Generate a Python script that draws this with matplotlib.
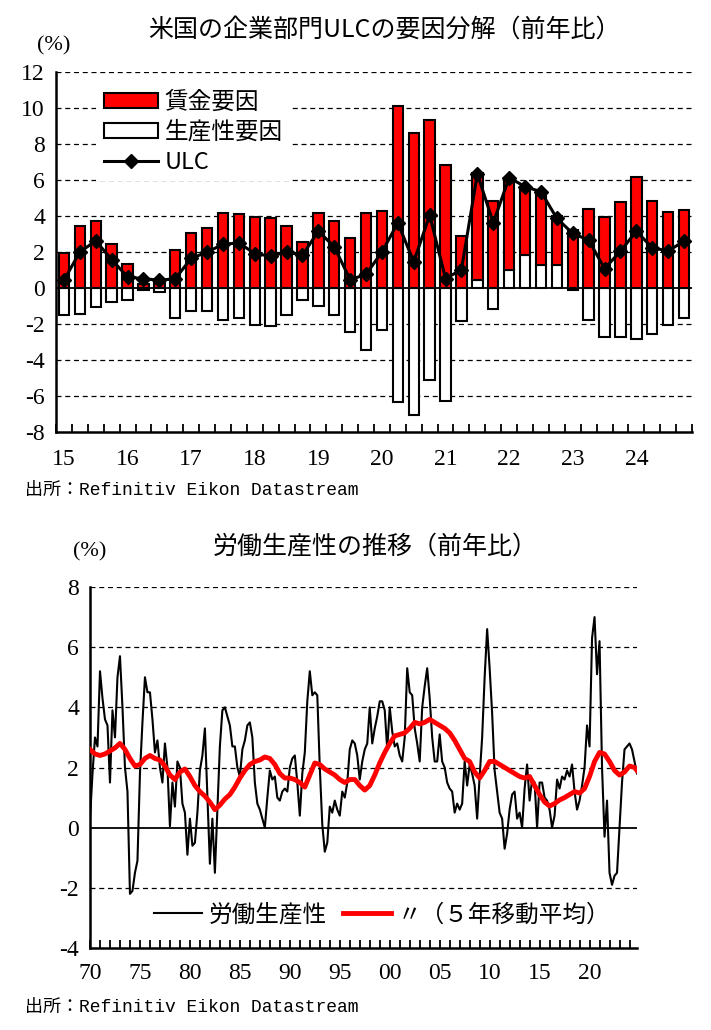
import numpy as np
import matplotlib
matplotlib.use("Agg")
import matplotlib.pyplot as plt
from matplotlib.patches import Patch
from matplotlib.lines import Line2D
from matplotlib.ticker import FixedLocator, FuncFormatter

JP = "Noto Sans CJK JP"
NUM = "Liberation Serif"
plt.rcParams["font.family"] = [NUM, JP]
plt.rcParams["axes.unicode_minus"] = False

# ---- top chart: ULC decomposition, quarterly 2015Q1-2024Q4 ----
year_labels = ["15", "16", "17", "18", "19", "20", "21", "22", "23", "24"]
wage = [1.95, 3.46, 3.70, 2.42, 1.32, 0.25, 0.30, 2.10, 3.03, 3.31,
        4.16, 4.11, 3.96, 3.90, 3.46, 2.53, 4.16, 3.70, 2.79, 4.14,
        4.28, 10.13, 8.61, 9.31, 6.84, 2.88, 5.91, 4.85, 5.11, 3.72,
        4.05, 2.71, 3.25, 4.41, 3.92, 4.80, 6.15, 4.85, 4.20, 4.33]
prod = [-1.52, -1.43, -1.06, -0.78, -0.65, -0.10, -0.22, -1.65, -1.30, -1.30,
        -1.77, -1.65, -2.03, -2.10, -1.52, -0.65, -0.99, -1.52, -2.42, -3.44,
        -2.32, -6.32, -7.04, -5.11, -6.26, -1.84, 0.46, -1.15, 0.99, 1.82,
        1.30, 1.30, -0.13, -1.75, -2.73, -2.73, -2.86, -2.55, -2.08, -1.67]
ulc = [0.43, 2.00, 2.62, 1.58, 0.61, 0.52, 0.43, 0.52, 1.64, 2.00,
       2.42, 2.51, 1.91, 1.77, 2.00, 1.82, 3.16, 2.29, 0.46, 0.76,
       2.00, 3.62, 1.45, 4.05, 0.52, 1.02, 6.34, 3.62, 6.13, 5.63,
       5.35, 3.87, 3.03, 2.66, 1.08, 2.04, 3.16, 2.23, 2.06, 2.60]

# ---- bottom chart: labour productivity yoy, quarterly from 1970Q1 ----
prod_yoy = [0.3, 1.8, 3.0, 2.7, 5.2, 4.3, 3.6, 3.4, 1.5, 3.9,
            3.0, 5.0, 5.7, 4.0, 2.0, 1.2, -2.2, -2.1, -1.5, -1.1,
            1.8, 3.5, 5.0, 4.5, 4.5, 3.6, 2.5, 2.9, 2.0, 1.5,
            2.8, 2.0, 0.05, 1.5, 0.7, 2.2, 2.0, 0.8, 0.5, -0.9,
            0.3, -0.6, -0.5, 0.5, 1.9, 2.4, 3.3, 1.0, -1.2, 0.3,
            -1.5, 0.6, 2.7, 3.9, 4.0, 3.7, 3.4, 2.7, 2.7, 2.0,
            1.7, 2.6, 2.9, 3.4, 3.5, 3.0, 1.5, 0.8, 0.6, 0.3,
            0.0, 1.0, 1.9, 1.6, 1.7, 1.0, 0.9, 1.2, 1.3, 1.2,
            2.0, 2.3, 2.4, 1.5, 0.4, 1.8, 2.5, 4.2, 5.2, 4.4,
            4.5, 4.4, 2.0, 0.1, -0.8, -0.5, 0.7, 0.5, 0.9, 0.6,
            0.4, 1.2, 1.0, 1.5, 2.6, 2.9, 2.8, 2.4, 1.6, 2.2,
            2.6, 2.8, 4.0, 2.8, 3.3, 3.7, 4.2, 4.2, 3.9, 2.6,
            4.0, 3.2, 2.7, 2.8, 2.4, 2.2, 3.0, 5.3, 4.5, 4.4,
            3.3, 2.8, 2.2, 4.0, 4.7, 5.3, 4.3, 3.0, 2.2, 2.2,
            3.1, 2.2, 2.0, 1.5, 1.3, 1.2, 0.5, 0.8, 0.6, 0.8,
            2.2, 1.4, 2.1, 1.8, 1.4, 0.3, 1.7, 3.0, 5.0, 6.6,
            5.3, 3.8, 1.9, 1.2, 0.5, 0.3, -0.7, -0.2, 0.6, 1.1,
            1.2, 0.3, 0.5, 0.0, 1.3, 2.1, 0.9, 1.6, 1.5, 0.0,
            1.5, 1.5, 1.0, 0.9, 0.6, 0.0, 0.4, 1.6, 1.3, 1.7,
            1.6, 1.9, 1.7, 2.1, 1.2, 0.6, 0.9, 1.4, 2.0, 3.4,
            2.7, 6.3, 7.0, 5.1, 6.2, 2.0, -0.3, 0.9, -1.5, -1.9,
            -1.6, -1.5, 0.0, 1.5, 2.6, 2.7, 2.8, 2.6, 2.2, 1.8]

# 5-year moving average
ma_year = [1970.0, 1970.5, 1971.0, 1971.5, 1972.0, 1972.5, 1973.0, 1973.5, 1974.0, 1974.5,
           1975.0, 1975.5, 1976.0, 1976.5, 1977.0, 1977.5, 1978.0, 1978.5, 1979.0, 1979.5,
           1980.0, 1980.5, 1981.0, 1981.5, 1982.0, 1982.5, 1983.0, 1983.5, 1984.0, 1984.5,
           1985.0, 1985.5, 1986.0, 1986.5, 1987.0, 1987.5, 1988.0, 1988.5, 1989.0, 1989.5,
           1990.0, 1990.5, 1991.0, 1991.5, 1992.0, 1992.5, 1993.0, 1993.5, 1994.0, 1994.5,
           1995.0, 1995.5, 1996.0, 1996.5, 1997.0, 1997.5, 1998.0, 1998.5, 1999.0, 1999.5,
           2000.0, 2000.5, 2001.0, 2001.5, 2002.0, 2002.5, 2003.0, 2003.5, 2004.0, 2004.5,
           2005.0, 2005.5, 2006.0, 2006.5, 2007.0, 2007.5, 2008.0, 2008.5, 2009.0, 2009.5,
           2010.0, 2010.5, 2011.0, 2011.5, 2012.0, 2012.5, 2013.0, 2013.5, 2014.0, 2014.5,
           2015.0, 2015.5, 2016.0, 2016.5, 2017.0, 2017.5, 2018.0, 2018.5, 2019.0, 2019.5,
           2020.0, 2020.5, 2021.0, 2021.5, 2022.0, 2022.5, 2023.0, 2023.5, 2024.0, 2024.5,
           2024.75]
ma_val = [2.6, 2.45, 2.4, 2.45, 2.55, 2.65, 2.8, 2.6, 2.3, 2.05,
          2.1, 2.3, 2.4, 2.3, 2.25, 2.05, 1.75, 1.6, 1.85, 1.95,
          1.7, 1.4, 1.2, 1.05, 0.85, 0.6, 0.75, 0.95, 1.1, 1.35,
          1.65, 1.9, 2.1, 2.2, 2.25, 2.35, 2.3, 2.1, 1.8, 1.65,
          1.65, 1.6, 1.5, 1.35, 1.75, 2.15, 2.1, 1.95, 1.85, 1.75,
          1.6, 1.5, 1.6, 1.6, 1.4, 1.25, 1.4, 1.75, 2.15, 2.5,
          2.8, 3.05, 3.1, 3.15, 3.3, 3.5, 3.45, 3.5, 3.6, 3.5,
          3.4, 3.3, 3.15, 2.9, 2.6, 2.3, 2.2, 1.85, 1.65, 1.9,
          2.2, 2.2, 2.1, 2.0, 1.9, 1.8, 1.7, 1.65, 1.7, 1.4,
          1.1, 0.85, 0.72, 0.8, 0.92, 1.0, 1.1, 1.2, 1.15, 1.3,
          1.7, 2.2, 2.5, 2.45, 2.2, 1.9, 1.75, 1.85, 2.05, 2.0,
          1.9]

fig = plt.figure(figsize=(7.11, 10.30), dpi=100)

# ================= top chart =================
ax1 = fig.add_axes([56 / 711, 1 - 432 / 1030, 636 / 711, 360 / 1030])
n = len(wage)
x = np.arange(n) + 0.5
prod_arr = np.array(prod)
wage_arr = np.array(wage)
wage_bottom = np.where(wage_arr >= 0, np.maximum(prod_arr, 0), np.minimum(prod_arr, 0))
bw = 0.66
ax1.bar(x, prod_arr, width=bw, color="white", edgecolor="black", linewidth=1.5, zorder=3)
ax1.bar(x, wage_arr, width=bw, bottom=wage_bottom, color="#ff0000",
        edgecolor="black", linewidth=1.5, zorder=3)
ax1.plot(x, ulc, color="black", lw=2.2, marker="D", ms=7, zorder=5)

ax1.set_xlim(0, n)
ax1.set_ylim(-8, 12)
ax1.set_yticks(np.arange(-8, 13, 2))
for v in np.arange(-6, 13, 2):
    if v == 0:
        ax1.axhline(0, color="black", lw=1.3, zorder=2)
    else:
        ax1.axhline(v, color="black", lw=0.9, ls=(0, (4, 3)), zorder=1)
ax1.set_xticks(np.arange(0, n + 1))
ax1.set_xticklabels([])
ax1.set_xticks(np.arange(0, n, 4) + 0.5, minor=True)
ax1.set_xticklabels(year_labels, minor=True)
ax1.tick_params(axis="x", which="major", direction="in", length=6, width=1.3)
ax1.tick_params(axis="x", which="minor", length=0, pad=12, labelsize=17)
ax1.tick_params(axis="y", length=0, pad=8, labelsize=17)
for s in ["top", "right"]:
    ax1.spines[s].set_visible(False)
for s in ["left", "bottom"]:
    ax1.spines[s].set_linewidth(1.8)

handles = [Patch(facecolor="#ff0000", edgecolor="black", linewidth=1.5),
           Patch(facecolor="white", edgecolor="black", linewidth=1.5),
           Line2D([], [], color="black", lw=2.2, marker="D", ms=7)]
leg1 = ax1.legend(handles, ["賃金要因", "生産性要因", "ULC"], loc="upper left",
                  bbox_to_anchor=(0.045, 1.0), frameon=True, fancybox=False,
                  edgecolor="none", facecolor="white", framealpha=1,
                  prop={"family": JP, "size": 17}, handlelength=2.3,
                  handleheight=0.6, handletextpad=0.3, labelspacing=0.3,
                  borderpad=0.3)
leg1.set_zorder(6)

fig.text(384 / 711, 1 - 30 / 1030, "米国の企業部門ULCの要因分解（前年比）",
         ha="center", va="center", fontsize=18, family=JP)
fig.text(54 / 711, 1 - 46 / 1030, "(%)", ha="center", va="center", fontsize=16)
fig.text(25 / 711, 1 - 490 / 1030, "出所：Refinitiv Eikon Datastream",
         ha="left", va="center", fontsize=13, family=["Liberation Mono", JP])

# ================= bottom chart =================
ax2 = fig.add_axes([90 / 711, 1 - 948 / 1030, 547 / 711, 361 / 1030])
q_years = 1970 + np.arange(len(prod_yoy)) / 4
ax2.plot(q_years, prod_yoy, color="black", lw=1.5, zorder=3, label="労働生産性")
ax2.plot(ma_year, ma_val, color="#ff0000", lw=3.5, zorder=4, label="〃（５年移動平均）")
ax2.set_xlim(1970, 2024.75)
ax2.set_ylim(-4, 8)
ax2.set_yticks(np.arange(-4, 9, 2))
for v in [-2, 2, 4, 6, 8]:
    ax2.axhline(v, color="black", lw=0.9, ls=(0, (4, 3)), zorder=1)
ax2.axhline(0, color="black", lw=1.3, zorder=2)
ax2.xaxis.set_major_locator(FixedLocator(np.arange(1970, 2025)))
ax2.xaxis.set_major_formatter(FuncFormatter(
    lambda v, p: "%02d" % (int(round(v)) % 100) if int(round(v)) % 5 == 0 else ""))
ax2.tick_params(axis="x", direction="in", length=6, width=1.3, pad=11, labelsize=17)
ax2.tick_params(axis="y", length=0, pad=8, labelsize=17)
for s in ["top", "right"]:
    ax2.spines[s].set_visible(False)
for s in ["left", "bottom"]:
    ax2.spines[s].set_linewidth(1.8)

leg2 = ax2.legend(loc="center right", bbox_to_anchor=(0.99, 0.092), ncol=2,
                  frameon=False, prop={"family": JP, "size": 17},
                  handlelength=2.0, handletextpad=0.3, columnspacing=0.7)

fig.text(375 / 711, 1 - 547 / 1030, "労働生産性の推移（前年比）",
         ha="center", va="center", fontsize=18, family=JP)
fig.text(90 / 711, 1 - 552 / 1030, "(%)", ha="center", va="center", fontsize=16)
fig.text(25 / 711, 1 - 1007 / 1030, "出所：Refinitiv Eikon Datastream",
         ha="left", va="center", fontsize=13, family=["Liberation Mono", JP])

fig.savefig("out.png", dpi=100)
